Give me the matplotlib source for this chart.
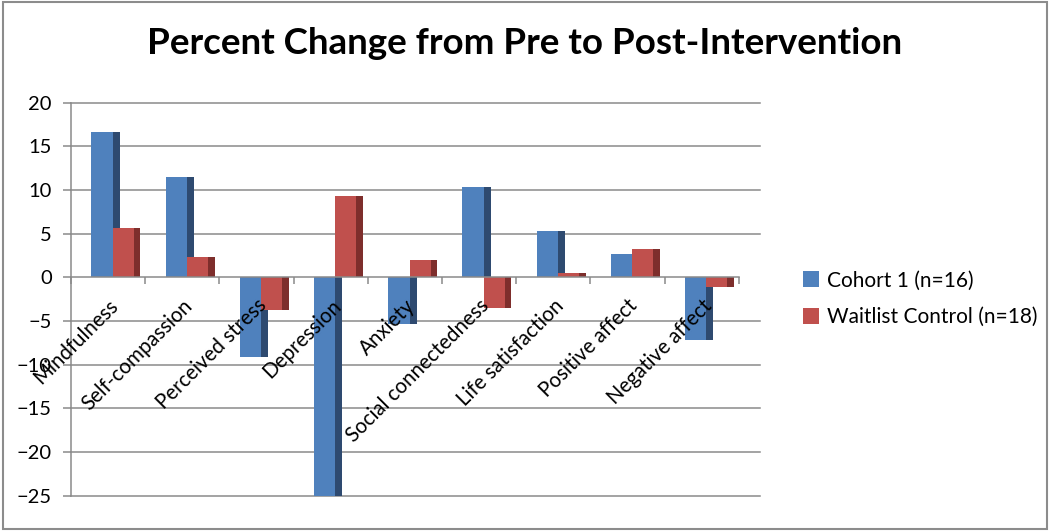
import numpy as np
import matplotlib
matplotlib.use("Agg")
import matplotlib.pyplot as plt
from matplotlib.patches import Rectangle

plt.rcParams['font.family'] = ['Lato', 'DejaVu Sans']

# Daten
categories = ['Mindfulness', 'Self-compassion', 'Perceived stress', 'Depression', 'Anxiety',
              'Social connectedness', 'Life satisfaction', 'Positive affect', 'Negative affect']
cohort = [16.7, 11.5, -9.1, -25.0, -5.35, 10.4, 5.3, 2.7, -7.2]
waitlist = [5.7, 2.3, -3.7, 9.35, 1.95, -3.55, 0.5, 3.2, -1.15]
series_names = ['Cohort 1 (n=16)', 'Waitlist Control (n=18)']
yticks = [-25, -20, -15, -10, -5, 0, 5, 10, 15, 20]

blue, blue_side = '#4F81BD', '#2E4A70'
red, red_side = '#C0504D', '#7E2E2C'
grid_col = '#8A8A8A'

fig = plt.figure(figsize=(10.5, 5.31), dpi=100)
ax = fig.add_axes([71 / 1050, 1 - 495.6 / 531, 688.6 / 1050, (495.6 - 102.7) / 531])

x = np.arange(len(categories))
# Excel tarzi 3D kutular: on yuz + koyu yan yuz
b1 = ax.bar(x + 0.276, cohort, width=0.287, align='edge', color=blue, zorder=3)
ax.bar(x + 0.563, cohort, width=0.094, align='edge', color=blue_side, zorder=3)
b2 = ax.bar(x + 0.563, waitlist, width=0.283, align='edge', color=red, zorder=4)
ax.bar(x + 0.846, waitlist, width=0.089, align='edge', color=red_side, zorder=4)

ax.set_xlim(0, 9.28)
ax.set_ylim(-25, 20)
ax.set_yticks(yticks)
ax.tick_params(axis='y', direction='out', length=5.8, width=1.1, color=grid_col,
               labelsize=14.5, pad=8)
ax.yaxis.grid(True, color=grid_col, linewidth=1.1, zorder=1)
for gl, t in zip(ax.get_ygridlines(), ax.get_yticks()):
    gl.set_clip_on(False)
    if t == 0:
        gl.set_visible(False)

for s in ['top', 'right']:
    ax.spines[s].set_visible(False)
ax.spines['left'].set_color(grid_col)
ax.spines['left'].set_linewidth(1.1)
ax.spines['bottom'].set_position(('data', 0))
ax.spines['bottom'].set_bounds(0, len(categories))
ax.spines['bottom'].set_color(grid_col)
ax.spines['bottom'].set_linewidth(1.1)
ax.spines['bottom'].set_zorder(5)

ax.set_xticks(np.arange(len(categories) + 1))
ax.set_xticklabels([])
ax.set_xticks(x + 0.5, minor=True)
ax.set_xticklabels(categories, minor=True, rotation=45, ha='right', va='top',
                   rotation_mode='anchor', fontsize=14.8)
ax.tick_params(axis='x', which='major', direction='out', length=5, width=1.1, color=grid_col)
ax.tick_params(axis='x', which='minor', length=0, pad=13)
ax.xaxis.set_zorder(10)

fig.text(0.5, 1 - 54 / 531, 'Percent Change from Pre to Post-Intervention',
         ha='center', va='baseline', fontsize=26.5, fontweight='bold')

fig.legend([b1, b2], series_names, loc='center left', bbox_to_anchor=(784 / 1050, 1 - 299 / 531),
           frameon=False, fontsize=15, handlelength=0.8, handleheight=0.8,
           handletextpad=0.35, labelspacing=0.8)

fig.patches.append(Rectangle((0.003, 0.004), 0.994, 0.992, transform=fig.transFigure,
                             fill=False, edgecolor='#8C8C8C', linewidth=1.5))

fig.savefig('out.png', dpi=100)
